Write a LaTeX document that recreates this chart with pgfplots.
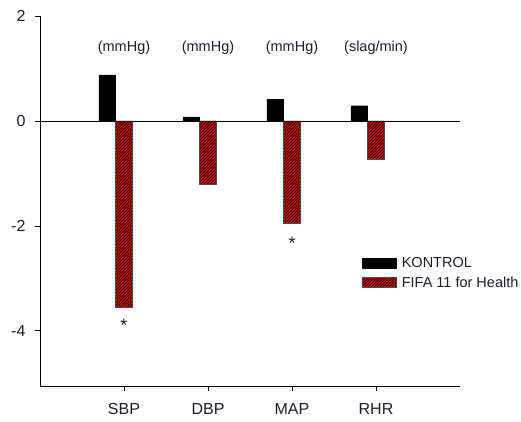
\documentclass[border=0pt]{standalone}
\usepackage{pgfplots}
\pgfplotsset{compat=1.18}
\usepackage{fontspec}
\setmainfont{Liberation Sans}
\usetikzlibrary{patterns}
\definecolor{fifared}{RGB}{200,0,0}
\definecolor{txt}{RGB}{30,30,40}
\begin{document}
\begin{tikzpicture}
\useasboundingbox (-40pt,-35pt) rectangle (481pt,386pt);
\begin{axis}[
  at={(0pt,0pt)}, anchor=south west,
  scale only axis, width=420pt, height=370pt,
  xmin=0, xmax=5, ymin=-5.05, ymax=2,
  axis lines=left, axis line style={-, line width=0.8pt},
  xtick={1,2,3,4}, xticklabels={SBP,DBP,MAP,RHR},
  ytick={-4,-2,0,2},
  tick align=outside, major tick length=5pt,
  tick style={black, line width=0.8pt},
  /pgf/number format/assume math mode=true,
  ticklabel style={font=\fontsize{16}{18}\selectfont, text=txt},
  xticklabel style={yshift=-9pt},
  yticklabel style={xshift=-6pt},
  legend cell align=left,
  legend style={at={(rel axis cs:0.76,0.36)}, anchor=north west, draw=none, fill=none,
    font=\fontsize{14.5}{16}\selectfont, text=txt, row sep=4pt,
    nodes={inner xsep=5pt}},
  legend image code/.code={\draw[#1] (0pt,-5pt) rectangle (34pt,5pt);},
  clip=false,
]
\addplot[ybar, bar width=0.2, bar shift=-0.2, fill=black, draw=black]
  coordinates {(1,0.88) (2,0.08) (3,0.41) (4,0.29)};
\addlegendentry{KONTROL}
\addplot[ybar, bar width=0.2, bar shift=0, fill=fifared, draw=black!70, line width=0.4pt,
  postaction={pattern=north east lines, pattern color=black}]
  coordinates {(1,-3.54) (2,-1.21) (3,-1.95) (4,-0.73)};
\addlegendentry{FIFA 11 for Health}
\addplot[black, line width=0.8pt, forget plot] coordinates {(0,0) (5,0)};
\node[text=txt, font=\fontsize{14.5}{16}\selectfont] at (axis cs:1,1.4) {(mmHg)};
\node[text=txt, font=\fontsize{14.5}{16}\selectfont] at (axis cs:2,1.4) {(mmHg)};
\node[text=txt, font=\fontsize{14.5}{16}\selectfont] at (axis cs:3,1.4) {(mmHg)};
\node[text=txt, font=\fontsize{14.5}{16}\selectfont] at (axis cs:4,1.4) {(slag/min)};
\node[text=txt, font=\fontsize{18}{18}\selectfont] at (axis cs:1,-3.9) {*};
\node[text=txt, font=\fontsize{18}{18}\selectfont] at (axis cs:3,-2.34) {*};
\end{axis}
\end{tikzpicture}
\end{document}
